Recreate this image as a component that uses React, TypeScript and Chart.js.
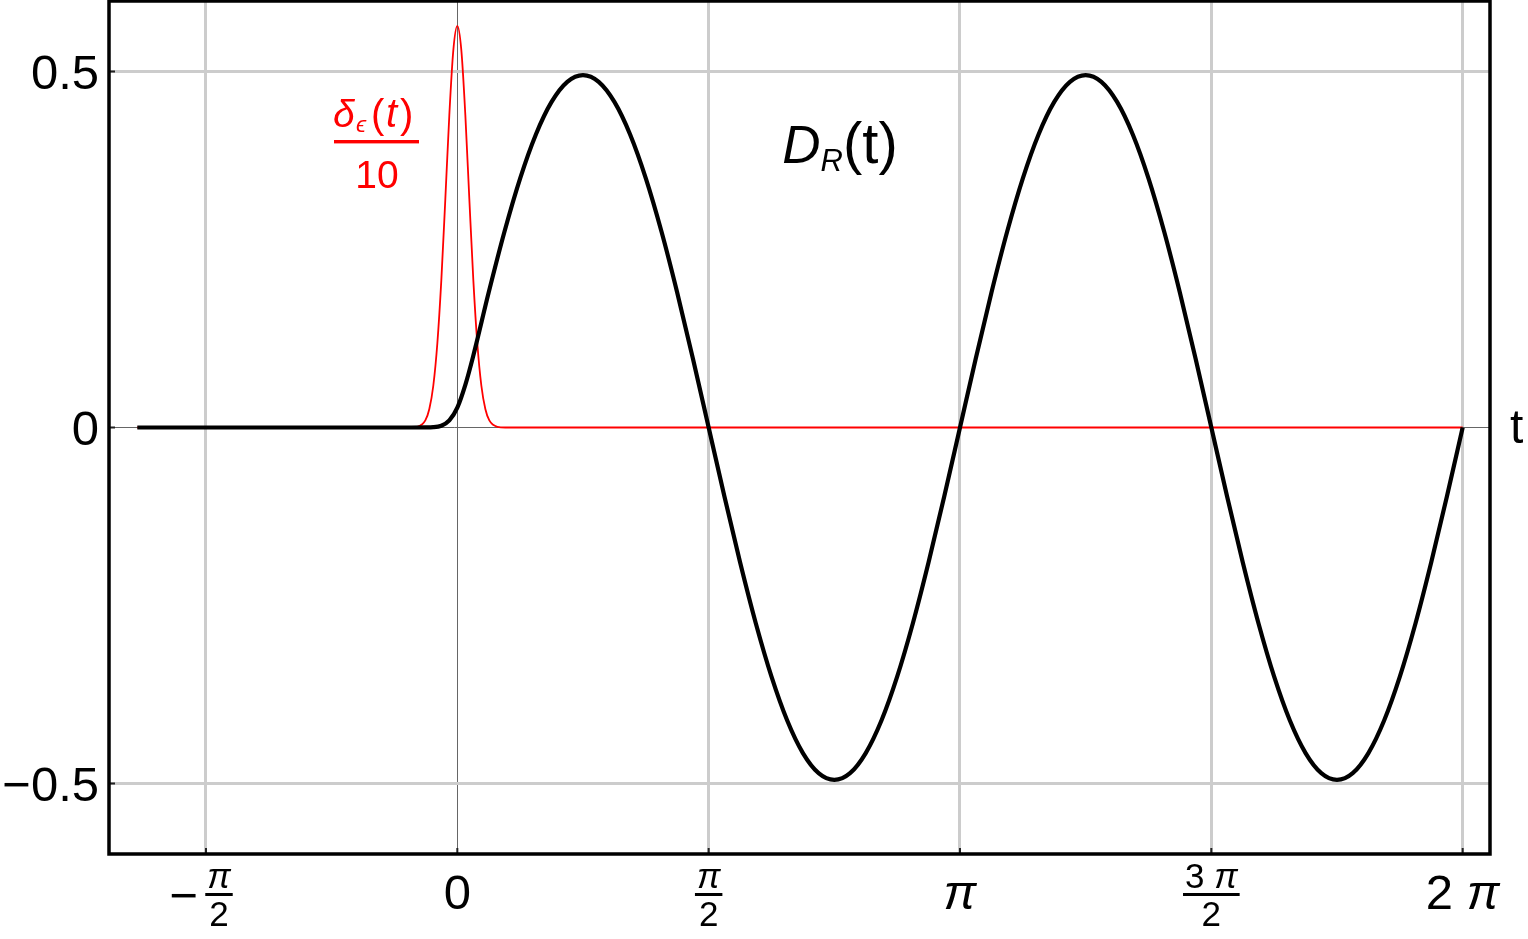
import React, { useEffect, useRef } from "react";
import { Chart, registerables } from "chart.js";

Chart.register(...registerables);

// ---- data ----
// black curve D_R(t): flat before 0, smooth turn-on, then oscillation of amplitude ~0.495
const blackT = [
  -2, -0.3, -0.2, -0.15, -0.1, -0.05, 0, 0.05,
  0.0982, 0.1963, 0.2945, 0.3927, 0.4909, 0.589, 0.6872, 0.7854,
  0.8836, 0.9817, 1.0799, 1.1781, 1.2763, 1.3744, 1.4726, 1.5708,
  1.669, 1.7671, 1.8653, 1.9635, 2.0617, 2.1598, 2.258, 2.3562,
  2.4544, 2.5525, 2.6507, 2.7489, 2.8471, 2.9452, 3.0434, 3.1416,
  3.2398, 3.3379, 3.4361, 3.5343, 3.6325, 3.7306, 3.8288, 3.927,
  4.0252, 4.1233, 4.2215, 4.3197, 4.4179, 4.516, 4.6142, 4.7124,
  4.8106, 4.9087, 5.0069, 5.1051, 5.2033, 5.3014, 5.3996, 5.4978,
  5.596, 5.6941, 5.7923, 5.8905, 5.9887, 6.0868, 6.185, 6.2832,
];
const blackY = [
  0, 0, 0.0001, 0.0004, 0.0025, 0.01, 0.028, 0.06,
  0.0995, 0.19, 0.275, 0.35, 0.4116, 0.4573, 0.4855, 0.495,
  0.4855, 0.4573, 0.4116, 0.35, 0.275, 0.1894, 0.0966, 0,
  -0.0966, -0.1894, -0.275, -0.35, -0.4116, -0.4573, -0.4855, -0.495,
  -0.4855, -0.4573, -0.4116, -0.35, -0.275, -0.1894, -0.0966, 0,
  0.0966, 0.1894, 0.275, 0.35, 0.4116, 0.4573, 0.4855, 0.495,
  0.4855, 0.4573, 0.4116, 0.35, 0.275, 0.1894, 0.0966, 0,
  -0.0966, -0.1894, -0.275, -0.35, -0.4116, -0.4573, -0.4855, -0.495,
  -0.4855, -0.4573, -0.4116, -0.35, -0.275, -0.1894, -0.0966, 0,
];
// red curve delta_eps(t)/10: narrow peak at t = 0
const redT = [
  -2, -0.3, -0.25, -0.2, -0.175, -0.15, -0.125, -0.1, -0.075, -0.05, -0.025, 0,
  0.025, 0.05, 0.075, 0.1, 0.125, 0.15, 0.175, 0.2, 0.25, 0.3, 6.2832,
];
const redY = [
  0, 0, 0.001, 0.01, 0.026, 0.059, 0.118, 0.207, 0.321, 0.439, 0.53, 0.564,
  0.53, 0.439, 0.321, 0.207, 0.118, 0.059, 0.026, 0.01, 0.001, 0, 0,
];

const xTickValues = [-Math.PI / 2, 0, Math.PI / 2, Math.PI, (3 * Math.PI) / 2, 2 * Math.PI];
const xTickLabels = ["−π/2", "0", "π/2", "π", "3 π/2", "2 π"];
const yTickValues = [-0.5, 0, 0.5];
const yTickLabels = ["−0.5", "0", "0.5"];

const xMin = -2.177;
const xMax = 6.454;
const yMin = -0.599;
const yMax = 0.599;

const FAMILY = '"Liberation Sans", Arial, "DejaVu Sans", sans-serif';

type Run = { t: string; italic?: boolean; size: number; dy?: number };

function mathRuns(s: string, size: number): Run[] {
  return Array.from(s).map((ch) => ({ t: ch, italic: ch === "π", size }));
}

function runsWidth(ctx: CanvasRenderingContext2D, runs: Run[]) {
  let w = 0;
  for (const r of runs) {
    ctx.font = `${r.italic ? "italic " : ""}${r.size}px ${FAMILY}`;
    w += ctx.measureText(r.t).width;
  }
  return w;
}

function drawRuns(ctx: CanvasRenderingContext2D, runs: Run[], cx: number, baseline: number) {
  const w = runsWidth(ctx, runs);
  let x = cx - w / 2;
  ctx.textAlign = "left";
  ctx.textBaseline = "alphabetic";
  for (const r of runs) {
    ctx.font = `${r.italic ? "italic " : ""}${r.size}px ${FAMILY}`;
    ctx.fillText(r.t, x, baseline + (r.dy || 0));
    x += ctx.measureText(r.t).width;
  }
}

function drawAt(ctx: CanvasRenderingContext2D, t: string, x: number, y: number, size: number, italic = false) {
  ctx.font = `${italic ? "italic " : ""}${size}px ${FAMILY}`;
  ctx.textAlign = "left";
  ctx.textBaseline = "alphabetic";
  ctx.fillText(t, x, y);
}

const decorPlugin = {
  id: "decor",
  beforeDraw(chart: any) {
    const { ctx, width, height } = chart;
    ctx.save();
    ctx.fillStyle = "#ffffff";
    ctx.fillRect(0, 0, width, height);
    ctx.restore();
  },
  afterDraw(chart: any) {
    const { ctx, chartArea: a, scales } = chart;
    const xs = scales.x;
    const ys = scales.y;
    ctx.save();
    // inner tick marks
    ctx.strokeStyle = "#222";
    ctx.lineWidth = 2;
    ctx.beginPath();
    xTickValues.forEach((v) => {
      const px = xs.getPixelForValue(v);
      ctx.moveTo(px, a.bottom);
      ctx.lineTo(px, a.bottom - 6);
    });
    yTickValues.forEach((v) => {
      const py = ys.getPixelForValue(v);
      ctx.moveTo(a.left, py);
      ctx.lineTo(a.left + 6, py);
    });
    ctx.stroke();
    // frame
    ctx.strokeStyle = "#000";
    ctx.lineWidth = 3.5;
    ctx.strokeRect(a.left, a.top, a.right - a.left, a.bottom - a.top);

    ctx.fillStyle = "#000";
    // y tick labels
    ctx.font = `49px ${FAMILY}`;
    ctx.textAlign = "right";
    ctx.textBaseline = "alphabetic";
    yTickValues.forEach((v, i) => {
      const py = ys.getPixelForValue(v);
      ctx.fillText(yTickLabels[i], a.left - 10, py + 17.5);
    });

    // x tick labels
    const big = 49;
    const small = 35;
    xTickValues.forEach((v, i) => {
      const px = xs.getPixelForValue(v);
      let lab = xTickLabels[i];
      if (lab.includes("/")) {
        let sign = false;
        if (lab.startsWith("−")) {
          sign = true;
          lab = lab.slice(1);
        }
        const [num, den] = lab.split("/");
        const numRuns = mathRuns(num, small);
        const denRuns = mathRuns(den, small);
        const cx = sign ? px + 13 : px;
        const bw = Math.max(runsWidth(ctx, numRuns), runsWidth(ctx, denRuns)) + 4;
        drawRuns(ctx, numRuns, cx, a.bottom + 34);
        ctx.fillRect(cx - bw / 2, a.bottom + 39, bw, 3);
        drawRuns(ctx, denRuns, cx, a.bottom + 72);
        if (sign) {
          ctx.font = `${big}px ${FAMILY}`;
          ctx.textAlign = "right";
          ctx.fillText("−", px - 8, a.bottom + 58);
        }
      } else {
        drawRuns(ctx, mathRuns(lab, big), px, a.bottom + 55);
      }
    });

    // axis label t
    drawAt(ctx, "t", 1510, 443, 48);

    // D_R(t) label
    ctx.fillStyle = "#000";
    drawRuns(
      ctx,
      [
        { t: "D", italic: true, size: 53 },
        { t: "R", italic: true, size: 31, dy: 8 },
        { t: "(t)", size: 58 },
      ],
      840,
      163
    );

    // red label delta_eps(t)/10
    ctx.fillStyle = "#ff0000";
    drawAt(ctx, "δ", 333, 127, 39, true);
    drawAt(ctx, "ϵ", 356, 132, 23, true);
    drawAt(ctx, "(", 371, 128, 40);
    drawAt(ctx, "t", 386, 127, 40, true);
    drawAt(ctx, ")", 400, 128, 40);
    ctx.fillRect(334, 140, 85, 3.4);
    ctx.font = `39px ${FAMILY}`;
    ctx.textAlign = "center";
    ctx.fillText("10", 377, 188);

    ctx.restore();
  },
};

export default function App() {
  const ref = useRef<HTMLCanvasElement | null>(null);
  useEffect(() => {
    if (!ref.current) return;
    const blackData = blackT.map((t, i) => ({ x: t, y: blackY[i] }));
    const redData = redT.map((t, i) => ({ x: t, y: redY[i] }));
    const gridColor = (c: any) => (c.tick && Math.abs(c.tick.value) < 1e-9 ? "#666666" : "#cccccc");
    const gridWidth = (c: any) => (c.tick && Math.abs(c.tick.value) < 1e-9 ? 1 : 3);
    const chart = new Chart(ref.current, {
      type: "line",
      data: {
        datasets: [
          {
            label: "D_R(t)",
            data: blackData,
            borderColor: "#000000",
            borderWidth: 4.2,
            pointRadius: 0,
            cubicInterpolationMode: "monotone",
            fill: false,
            order: 0,
          },
          {
            label: "δ_ε(t)/10",
            data: redData,
            borderColor: "#ff0000",
            borderWidth: 1.8,
            pointRadius: 0,
            cubicInterpolationMode: "monotone",
            fill: false,
            order: 1,
          },
        ],
      },
      options: {
        animation: false,
        responsive: false,
        maintainAspectRatio: false,
        devicePixelRatio: 1,
        layout: { padding: { left: 109, right: 38, top: 1, bottom: 85 } },
        plugins: { legend: { display: false }, tooltip: { enabled: false } },
        events: [],
        scales: {
          x: {
            type: "linear",
            min: xMin,
            max: xMax,
            afterBuildTicks: (s: any) => {
              s.ticks = xTickValues.map((v) => ({ value: v }));
            },
            ticks: { display: false },
            grid: { drawTicks: false, color: gridColor, lineWidth: gridWidth },
            border: { display: false },
          },
          y: {
            type: "linear",
            min: yMin,
            max: yMax,
            afterBuildTicks: (s: any) => {
              s.ticks = yTickValues.map((v) => ({ value: v }));
            },
            ticks: { display: false },
            grid: { drawTicks: false, color: gridColor, lineWidth: gridWidth },
            border: { display: false },
          },
        },
      },
      plugins: [decorPlugin],
    } as any);
    return () => chart.destroy();
  }, []);
  return (
    <div style={{ position: "absolute", left: 0, top: 0, width: 1528, height: 939 }}>
      <canvas ref={ref} width={1528} height={939} style={{ display: "block" }} />
    </div>
  );
}
